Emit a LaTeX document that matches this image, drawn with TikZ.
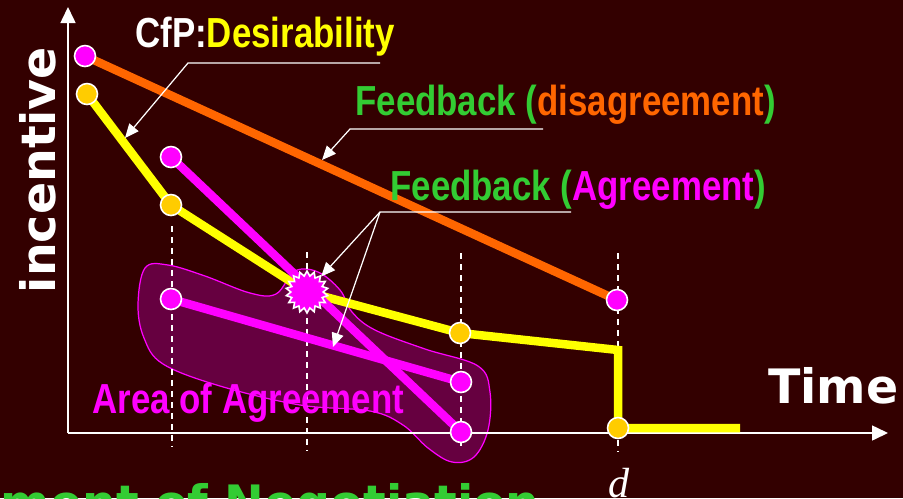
\documentclass[tikz,border=0pt]{standalone}
\usepackage{fontspec}
\setmainfont{Liberation Sans}
\newfontfamily\narrowfont[FakeStretch=0.83]{Liberation Sans}
\newfontfamily\heavyfont{DejaVu Sans}
\newfontfamily\timesfont{Liberation Serif}
\usepackage{tikz}
\usetikzlibrary{arrows.meta, shapes.geometric, backgrounds}

\definecolor{bgred}{RGB}{51,0,0}
\definecolor{lineorange}{RGB}{255,102,0}
\definecolor{dotorange}{RGB}{255,204,0}
\definecolor{fbgreen}{RGB}{51,204,51}
\definecolor{pmagenta}{RGB}{255,0,255}
\definecolor{pyellow}{RGB}{255,255,0}

\begin{document}
\begin{tikzpicture}[x=0.02cm, y=-0.02cm,
  pdot/.style={circle, draw=white, line width=0.9pt, fill=pmagenta, minimum size=0.42cm, inner sep=0pt},
  odot/.style={pdot, fill=dotorange},
  bigtext/.style={font=\narrowfont\bfseries\fontsize{23.9}{28}\selectfont, inner sep=0pt, anchor=base west},
  heavytext/.style={font=\heavyfont\bfseries\fontsize{27}{32}\selectfont, inner sep=0pt, white},
  callout/.style={draw=white, line width=0.7pt, -{Triangle[length=0.28cm, width=0.24cm]}},
  guide/.style={white, line width=0.9pt, dash pattern=on 0.12cm off 0.1cm},
  curve/.style={line width=0.17cm}]

\useasboundingbox (0,0) rectangle (903,498);

% Points of the offers
\node[pdot] (o1) at (85,56) {};
\node[pdot] (o2) at (617,300) {};
\node[odot] (y1) at (87,94) {};
\node[odot] (y2) at (171,205) {};
\node[odot] (y3) at (460,333) {};
\node[odot] (y4) at (618,428) {};
\node[pdot] (m1) at (171,157) {};
\node[pdot] (m2) at (171,299) {};
\node[pdot] (m3) at (461,382) {};
\node[pdot] (m4) at (461,432) {};
\coordinate (ycorner) at (618,350);
\coordinate (yend) at (740,428);

% Agreement point
\node[star, star points=18, star point ratio=1.3, draw=white, fill=pmagenta,
      line width=0.9pt, minimum size=0.84cm, inner sep=0pt] (agree) at (307,292) {};

\begin{scope}[on background layer]
% Background
\fill[bgred] (0,0) rectangle (903,498);

% Area of agreement
\filldraw[draw=pmagenta, fill=pmagenta, fill opacity=0.25, line width=0.7pt]
  plot[smooth cycle, tension=0.6] coordinates {
  (145,268) (168,265) (205,276) (250,293) (276,294) (295,271) (318,272)
  (340,290) (352,312) (375,330) (425,349) (478,366) (490,392) (488,430)
  (474,457) (452,462) (428,448) (403,425) (370,411) (300,405) (220,386)
  (163,364) (144,338) (138,305)};

% Axes
\draw[white, line width=0.9pt, -{Triangle[length=0.32cm, width=0.3cm]}] (68,433) -- (68,7);
\draw[white, line width=0.9pt, -{Triangle[length=0.32cm, width=0.3cm]}] (68,433) -- (888,433);

% Time steps
\draw[guide] (172,226) -- (172,447);
\draw[guide] (307,252) -- (307,450);
\draw[guide] (461,253) -- (461,450);
\draw[guide] (618,253) -- (618,452);

% Offer curves
\draw[curve, lineorange] (o1.center) -- (o2.center);
\draw[curve, pyellow] (y1.center) -- (y2.center) -- (agree.center) -- (y3.center)
  -- (ycorner) -- (y4.center) -- (yend);
\draw[curve, pmagenta] (m1.center) -- (m4.center);
\draw[curve, pmagenta] (m2.center) -- (m3.center);
\end{scope}

% Labels
\node[bigtext, white] (cfp) at (135,47) {CfP:\textcolor{pyellow}{Desirability}};
\node[bigtext, fbgreen] (fbdis) at (355,115) {Feedback (\textcolor{lineorange}{disagreement})};
\node[bigtext, fbgreen] (fbagr) at (390,200) {Feedback (\textcolor{pmagenta}{Agreement})};
\node[bigtext, pmagenta] (area) at (92,413) {Area of Agreement};

\node[heavytext, rotate=90, anchor=base] (ylab) at (55,170) {incentive};
\node[heavytext, anchor=base west] (xlab) at (768,403) {Time};
\node[anchor=base, inner sep=0pt, white, font=\timesfont\itshape\fontsize{24}{28}\selectfont] (dlab) at (619,497) {d};
\node[heavytext, fbgreen, anchor=base east] (bottom) at (540,519) {ment of Negotiation};

% Callouts
\coordinate (cfpa) at (380,63);
\coordinate (cfpk) at (188,63);
\coordinate (cfpt) at (125,138);
\draw[callout] (cfpa) -- (cfpk) -- (cfpt);

\coordinate (disa) at (543,129);
\coordinate (disk) at (350,129);
\coordinate (dist) at (322,160);
\draw[callout] (disa) -- (disk) -- (dist);

\coordinate (agra) at (571,212);
\coordinate (agrk) at (380,212);
\coordinate (agrt) at (333,347);
\draw[callout] (agra) -- (agrk) -- (agree);
\draw[callout] (agrk) -- (agrt);

\end{tikzpicture}
\end{document}
